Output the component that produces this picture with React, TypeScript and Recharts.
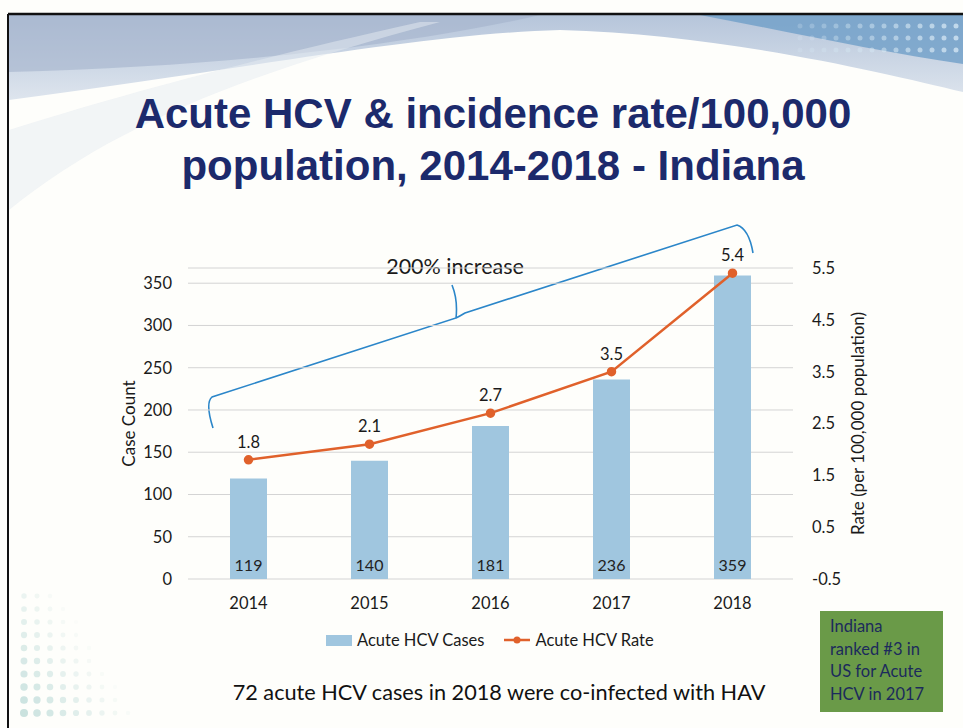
import React from "react";
import {
  ComposedChart,
  Bar,
  Line,
  XAxis,
  YAxis,
  CartesianGrid,
  LabelList,
} from "recharts";

// values
const years = ["2014", "2015", "2016", "2017", "2018"];
const caseCounts = [119, 140, 181, 236, 359];
const rates = [1.8, 2.1, 2.7, 3.5, 5.4];

const caseTicks = [0, 50, 100, 150, 200, 250, 300, 350];
const rateTicks = [-0.5, 0.5, 1.5, 2.5, 3.5, 4.5, 5.5];

const CASES_NAME = "Acute HCV Cases";
const RATE_NAME = "Acute HCV Rate";

const BAR_COLOR = "#a0c6df";
const LINE_COLOR = "#e0612b";
const FONT = "Lato, 'Open Sans', sans-serif";

const data = years.map((y, i) => ({ year: y, cases: caseCounts[i], rate: rates[i] }));

// rotated axis title drawn from the axis viewBox
function AxisTitle(props: any) {
  const { viewBox, value, cx } = props;
  if (!viewBox) return null;
  const x = viewBox.x + cx;
  const y = viewBox.y + viewBox.height / 2;
  return (
    <text
      x={x}
      y={y}
      transform={`rotate(-90 ${x} ${y})`}
      textAnchor="middle"
      dominantBaseline="central"
      fontSize={17}
      fontFamily={FONT}
      fill="#1a1a1a"
    >
      {value}
    </text>
  );
}

function Backdrop() {
  const dots: React.ReactNode[] = [];
  // dotted corner pattern (decoration only)
  for (let r = 0; r < 10; r++) {
    for (let c = 0; c < 9; c++) {
      const fade = 1 - c / 9 - (9 - r) / 14;
      if (fade <= 0.05) continue;
      dots.push(
        <circle
          key={`d${r}-${c}`}
          cx={24 + c * 13}
          cy={596 + r * 13}
          r={2 + fade * 2}
          fill="#a6cfcc"
          opacity={fade * 0.6}
        />
      );
    }
  }
  const topDots: React.ReactNode[] = [];
  for (let r = 0; r < 3; r++) {
    for (let c = 0; c < 14; c++) {
      topDots.push(
        <circle
          key={`t${r}-${c}`}
          cx={800 + c * 12}
          cy={26 + r * 12}
          r={2.5}
          fill="#d6e8f4"
          opacity={0.25 + c * 0.04}
        />
      );
    }
  }
  return (
    <svg
      width={963}
      height={728}
      style={{ position: "absolute", left: 0, top: 0 }}
    >
      <defs>
        <linearGradient id="band" x1="0" y1="0" x2="0" y2="1">
          <stop offset="0" stopColor="#aebfd7" />
          <stop offset="1" stopColor="#dae2ec" />
        </linearGradient>
      </defs>
      <rect x={0} y={0} width={963} height={728} fill="#fefefb" />
      <path
        d="M9,15 L963,15 L963,92 C880,72 720,34 560,30 C420,34 240,70 9,100 Z"
        fill="url(#band)"
        opacity={0.9}
      />
      <path
        d="M9,15 L540,15 C430,40 250,66 9,72 Z"
        fill="#a3b2cc"
        opacity={0.6}
      />
      <path
        d="M700,15 L963,15 L963,64 C880,52 790,32 700,15 Z"
        fill="#6f9fc8"
        opacity={0.8}
      />
      <path
        d="M9,210 L9,130 C120,95 250,60 420,22 L440,22 C260,70 120,120 9,210 Z"
        fill="#e6ecf2"
        opacity={0.5}
      />
      {topDots}
      {dots}
      <line x1={8} y1={14} x2={963} y2={14} stroke="#111" strokeWidth={2.5} />
      <line x1={8} y1={14} x2={8} y2={728} stroke="#111" strokeWidth={2} />
      {/* bracket annotation */}
      <path
        d="M213,428 Q205,403 212,397 L456,318 Q458,300 452,285 M456,318 Q460,316 465,313 L737,225 Q749,229 753,253"
        fill="none"
        stroke="#2b86c9"
        strokeWidth={1.6}
      />
      <text
        x={455}
        y={274}
        textAnchor="middle"
        fontSize={21.5}
        fontFamily={FONT}
        fill="#1a1a1a"
      >
        200% increase
      </text>
    </svg>
  );
}

export default function App() {
  return (
    <div
      style={{
        position: "absolute",
        left: 0,
        top: 0,
        width: 963,
        height: 728,
        overflow: "hidden",
        fontFamily: FONT,
      }}
    >
      <Backdrop />

      <div
        style={{
          position: "absolute",
          left: 0,
          top: 88,
          width: 986,
          textAlign: "center",
          fontFamily: "'Liberation Sans', Arial, sans-serif",
          fontWeight: 700,
          fontSize: 42,
          lineHeight: "52px",
          color: "#1c2a6c",
        }}
      >
        Acute HCV &amp; incidence rate/100,000
        <br />
        population, 2014-2018 - Indiana
      </div>

      <div style={{ position: "absolute", left: 0, top: 0 }}>
        <ComposedChart
          width={963}
          height={728}
          data={data}
          margin={{ top: 268, right: 80, bottom: 119, left: 128 }}
        >
          <CartesianGrid
            yAxisId="cases"
            vertical={false}
            stroke="#d4d4d4"
            strokeWidth={1}
          />
          <XAxis
            dataKey="year"
            axisLine={false}
            tickLine={false}
            tickMargin={12}
            height={30}
            tick={{ fontSize: 16.5, fontFamily: FONT, fill: "#1a1a1a" }}
          />
          <YAxis
            yAxisId="cases"
            domain={[0, 368]}
            ticks={caseTicks}
            width={60}
            axisLine={false}
            tickLine={false}
            tickMargin={10}
            tick={{ fontSize: 16.5, fontFamily: FONT, fill: "#1a1a1a" }}
            label={<AxisTitle value="Case Count" cx={0} />}
          />
          <YAxis
            yAxisId="rate"
            orientation="right"
            domain={[-0.5, 5.5]}
            ticks={rateTicks}
            tickFormatter={(v: number) => v.toFixed(1)}
            width={90}
            axisLine={false}
            tickLine={false}
            tickMargin={13}
            tick={{ fontSize: 16.5, fontFamily: FONT, fill: "#1a1a1a", textAnchor: "start" }}
            label={<AxisTitle value="Rate (per 100,000 population)" cx={64} />}
          />
          <Bar
            yAxisId="cases"
            dataKey="cases"
            name={CASES_NAME}
            fill={BAR_COLOR}
            barSize={37}
            isAnimationActive={false}
          >
            <LabelList
              dataKey="cases"
              position="insideBottom"
              offset={8}
              fontSize={16}
              fontFamily={FONT}
              fill="#222"
            />
          </Bar>
          <Line
            yAxisId="rate"
            type="linear"
            dataKey="rate"
            name={RATE_NAME}
            stroke={LINE_COLOR}
            strokeWidth={2.5}
            dot={{ r: 3.5, fill: LINE_COLOR, stroke: LINE_COLOR }}
            isAnimationActive={false}
          >
            <LabelList
              dataKey="rate"
              position="top"
              offset={12}
              fontSize={16.5}
              fontFamily={FONT}
              fill="#1a1a1a"
            />
          </Line>
        </ComposedChart>
      </div>

      {/* legend as html row */}
      <div
        style={{
          position: "absolute",
          left: 326,
          top: 630,
          display: "flex",
          alignItems: "center",
          fontSize: 16.5,
          color: "#1a1a1a",
          whiteSpace: "nowrap",
        }}
      >
        <div style={{ width: 26, height: 11, background: BAR_COLOR, marginRight: 5 }} />
        <span>{CASES_NAME}</span>
        <svg width={26} height={12} style={{ marginLeft: 20, marginRight: 5 }}>
          <line x1={0} y1={6} x2={26} y2={6} stroke={LINE_COLOR} strokeWidth={2.5} />
          <circle cx={13} cy={6} r={3.5} fill={LINE_COLOR} />
        </svg>
        <span>{RATE_NAME}</span>
      </div>

      <div
        style={{
          position: "absolute",
          left: 0,
          top: 679,
          width: 998,
          textAlign: "center",
          fontSize: 21.7,
          color: "#111",
        }}
      >
        72 acute HCV cases in 2018 were co-infected with HAV
      </div>

      <div
        style={{
          position: "absolute",
          left: 820,
          top: 611,
          width: 123,
          height: 101,
          boxSizing: "border-box",
          padding: "4px 0 0 10px",
          background: "#6a9a48",
          color: "#1c2a5c",
          fontSize: 16.5,
          lineHeight: "22.5px",
        }}
      >
        Indiana
        <br />
        ranked #3 in
        <br />
        US for Acute
        <br />
        HCV in 2017
      </div>
    </div>
  );
}
